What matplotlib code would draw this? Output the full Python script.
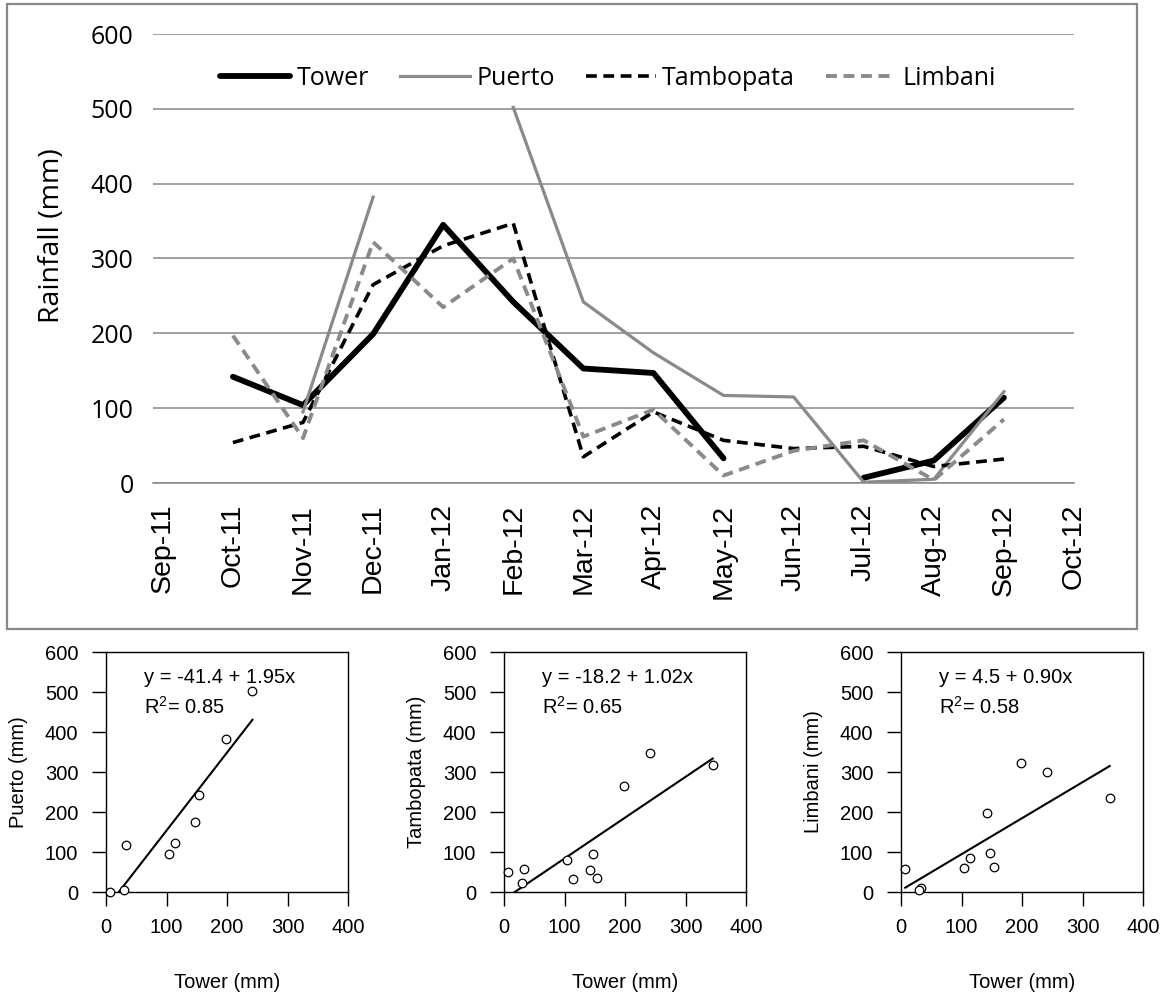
import numpy as np
import matplotlib
matplotlib.use('Agg')
import matplotlib.pyplot as plt
from matplotlib.patches import Rectangle

# ---------------- data ----------------
month_labels = ['Sep-11', 'Oct-11', 'Nov-11', 'Dec-11', 'Jan-12', 'Feb-12', 'Mar-12',
                'Apr-12', 'May-12', 'Jun-12', 'Jul-12', 'Aug-12', 'Sep-12', 'Oct-12']
data_months = ['Oct-11', 'Nov-11', 'Dec-11', 'Jan-12', 'Feb-12', 'Mar-12',
               'Apr-12', 'May-12', 'Jun-12', 'Jul-12', 'Aug-12', 'Sep-12']
nan = np.nan
tower = [142, 104, 199, 345, 242, 153, 147, 33, nan, 7, 30, 114]
puerto = [nan, 95, 382, nan, 502, 242, 174, 117, 115, 1, 5, 122]
tambopata = [54, 81, 265, 317, 347, 35, 95, 57, 46, 49, 22, 32]
limbani = [197, 60, 322, 235, 300, 62, 98, 10, 43, 57, 4, 85]

tick_mark_months = ['Oct-11', 'Dec-11', 'Feb-12', 'Mar-12', 'Apr-12', 'May-12',
                    'Jun-12', 'Jul-12', 'Aug-12', 'Sep-12', 'Oct-12']

station_names = ['Puerto', 'Tambopata', 'Limbani']
fit_intercepts = [-41.4, -18.2, 4.5]
fit_slopes = [1.95, 1.02, 0.90]
fit_r2 = [0.85, 0.65, 0.58]

# ---------------- figure ----------------
W, H = 1160, 996
fig = plt.figure(figsize=(W / 100, H / 100), dpi=100)

def fx(px):
    return px / W

def fy(py):
    return 1 - py / H

GRAY = '#8a8a8a'
GRID = '#868686'
TOPFONT = 'Open Sans'
BOTFONT = 'Liberation Sans'

# outer frame around top chart
fig.add_artist(Rectangle((fx(7), fy(629)), fx(1137) - fx(7), fy(4) - fy(629),
                         transform=fig.transFigure, fill=False, ec='#888888', lw=1.6))

# ---------------- top time series ----------------
ax = fig.add_axes([fx(153), fy(483), fx(1074) - fx(153), fy(34) - fy(483)])
xpos = {m: i for i, m in enumerate(month_labels)}
xd = np.array([xpos[m] for m in data_months], dtype=float)

ax.plot(xd, tower, color='black', lw=4.2, solid_capstyle='round', label='Tower', zorder=3)
ax.plot(xd, puerto, color=GRAY, lw=2.3, label='Puerto', zorder=3)
ax.plot(xd, tambopata, color='black', lw=2.6, linestyle=(0, (3.0, 1.8)), label='Tambopata', zorder=3)
ax.plot(xd, limbani, color=GRAY, lw=2.8, linestyle=(0, (2.8, 1.7)), label='Limbani', zorder=3)

ax.set_xlim(-0.14, 13)
ax.set_ylim(0, 600)
ax.set_yticks(np.arange(0, 601, 100))
ax.set_xticks(range(len(month_labels)))
ax.set_xticklabels(month_labels, rotation=90, fontsize=20.5, family=BOTFONT)
ax.set_xticks([xpos[m] for m in tick_mark_months], minor=True)
ax.tick_params(axis='x', which='major', length=0, pad=15)
ax.tick_params(axis='x', which='minor', length=5, width=1.0, color=GRID, direction='out')
ax.tick_params(axis='y', length=0, pad=14, labelsize=18)
for t in ax.get_yticklabels():
    t.set_family(TOPFONT)
ax.grid(axis='y', color=GRID, lw=1.1)
ax.set_axisbelow(True)
for s in ['top', 'right', 'left']:
    ax.spines[s].set_visible(False)
ax.spines['bottom'].set_color(GRID)
ax.spines['bottom'].set_linewidth(1.1)
ax.set_ylabel('Rainfall (mm)', fontsize=20.5, family=TOPFONT)
ax.yaxis.label.set_va('center')
ax.yaxis.set_label_coords(-0.11, 0.552)

leg = ax.legend(loc='center', bbox_to_anchor=(0.494, 0.902), ncol=4, frameon=False,
                prop={'family': TOPFONT, 'size': 18}, handlelength=2.8,
                handletextpad=0.25, columnspacing=1.25)

# ---------------- bottom scatter plots ----------------
lefts = [106, 504, 901]
others = [puerto, tambopata, limbani]
tw = np.array(tower, dtype=float)
for i in range(3):
    a = fig.add_axes([fx(lefts[i]), fy(892), fx(lefts[i] + 242) - fx(lefts[i]), fy(652) - fy(892)])
    yv = np.array(others[i], dtype=float)
    mask = ~np.isnan(tw) & ~np.isnan(yv)
    xs, ys = tw[mask], yv[mask]
    xl = np.array([xs.min(), xs.max()])
    a.plot(xl, fit_intercepts[i] + fit_slopes[i] * xl, color='black', lw=1.5, zorder=2)
    a.scatter(xs, ys, s=38, facecolors='white', edgecolors='black', linewidths=0.9, zorder=3,
              clip_on=False)
    a.set_xlim(0, 400)
    a.set_ylim(0, 600)
    a.set_xticks(np.arange(0, 401, 100))
    a.set_yticks(np.arange(0, 601, 100))
    a.tick_params(direction='out', length=10, width=1.0, labelsize=14.5)
    a.tick_params(axis='y', pad=10)
    a.tick_params(axis='x', pad=9)
    for t in a.get_xticklabels() + a.get_yticklabels():
        t.set_family(BOTFONT)
    for s in a.spines.values():
        s.set_linewidth(1.0)
    a.set_xlabel('Tower (mm)', fontsize=14.5, family=BOTFONT)
    a.xaxis.label.set_va('center')
    a.xaxis.set_label_coords(0.5, -0.375)
    a.set_ylabel(station_names[i] + ' (mm)', fontsize=14.5, family=BOTFONT)
    a.yaxis.label.set_va('center')
    a.yaxis.set_label_coords(-0.36, 0.5)
    sign = '-' if fit_intercepts[i] < 0 else ''
    eq = 'y = %s%.1f + %.2fx' % (sign, abs(fit_intercepts[i]), fit_slopes[i])
    a.text(62, 537, eq, fontsize=14.5, family=BOTFONT, va='center', ha='left')
    a.text(62, 462, r'R$^{\mathregular{2}}$= %.2f' % fit_r2[i], fontsize=14.5,
           family=BOTFONT, va='center', ha='left')

fig.savefig('out.png', dpi=100)
